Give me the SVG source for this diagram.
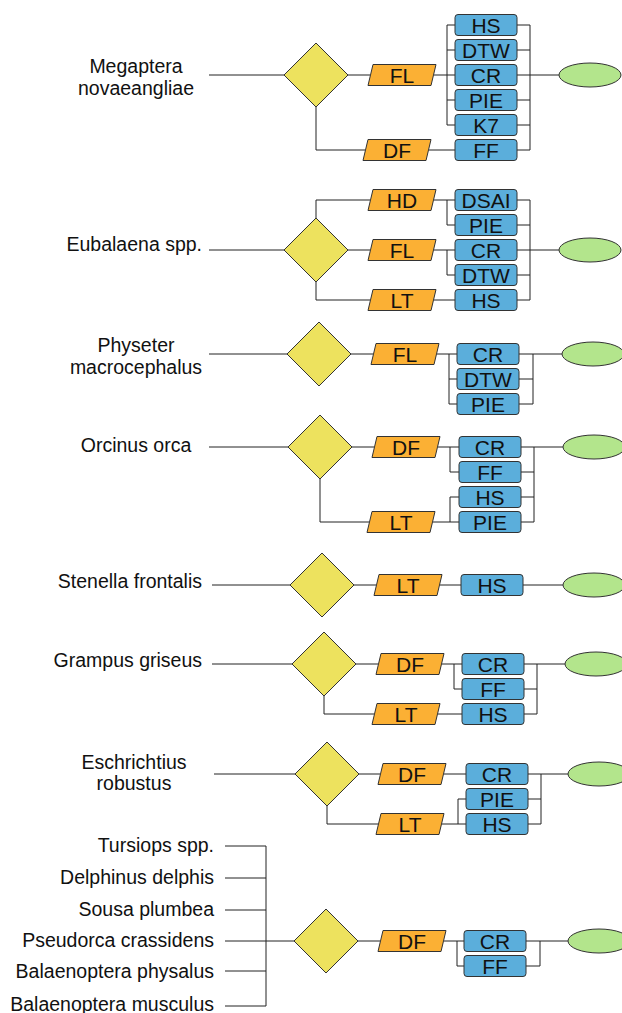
<svg xmlns="http://www.w3.org/2000/svg" width="622" height="1013" viewBox="0 0 622 1013">
<defs>
<style>
.ln{fill:none;stroke:#222;stroke-width:1}
.dia{fill:#EDE25E;stroke:#333;stroke-width:1}
.par{fill:#FBB034;stroke:#333;stroke-width:1}
.box{fill:#5BAEDB;stroke:#333;stroke-width:1}
.ell{fill:#B3E58C;stroke:#333;stroke-width:1}
.lbl{font-family:"Liberation Sans",Arial,sans-serif;font-size:19.5px;fill:#111}
.t{font-family:"Liberation Sans",Arial,sans-serif;font-size:21px;fill:#111;text-anchor:middle}
</style>
<polygon id="dm" points="0,-32 32,0 0,32 -32,0"/>
<polygon id="pg" points="5,-10.5 68,-10.5 63,10.5 0,10.5"/>
<rect id="bx" x="0" y="-10.5" width="62" height="21" rx="3"/>
<ellipse id="el" cx="0" cy="0" rx="31" ry="12"/>
</defs>
<rect width="622" height="1013" fill="#fff"/>

<g id="connectors" class="ln">
<path d="M209,75H284M348,75H370M316,107V150H365M434,75H455M447,25V125M447,25H455M447,50H455M447,100H455M447,125H455M429,150H455M517,25H530M517,50H530M517,75H559M517,100H530M517,125H530M517,150H530M530,25V150"/>
<path d="M209,250H284M348,250H370M316,218V200H370M316,282V300H370M434,200H455M447,200V225H455M434,250H455M447,250V275H455M434,300H455M517,200H530M517,225H530M517,250H559M517,275H530M517,300H530M530,200V300"/>
<path d="M209,354H287M351,354H373M437,354H457M449,354V404M449,379H457M449,404H457M519,354H562M519,379H533M519,404H533M533,354V404"/>
<path d="M209,447H288M352,447H374M320,479V522H369M438,447H459M450,447V472H459M433,522H459M450,497V522M450,497H459M521,447H563M521,472H534M521,497H534M521,522H534M534,447V522"/>
<path d="M212,585H290M354,585H376M440,585H461M523,585H563"/>
<path d="M212,664H292M356,664H378M324,696V714H374M442,664H462M454,664V689H462M438,714H462M524,664H565M524,689H537M524,714H537M537,664V714"/>
<path d="M214,774H295M359,774H380M444,774H466M327,806V824H378M442,824H466M458,824V799H466M528,774H568M528,799H541M528,824H541M541,774V824"/>
<path d="M225,846H266M225,878H266M225,910H266M225,941H294M225,971H266M225,1006H266M266,846V1006M358,941H380M444,941H464M457,941V966H464M526,941H568M526,966H540M540,941V966"/>
</g>

<g id="row1">
<text class="lbl" x="136" y="73" text-anchor="middle">Megaptera</text>
<text class="lbl" x="136" y="95" text-anchor="middle">novaeangliae</text>
<use href="#dm" class="dia" x="316" y="75"/>
<use href="#pg" class="par" x="368" y="75"/><text class="t" x="402" y="82.5">FL</text>
<use href="#pg" class="par" x="363" y="150"/><text class="t" x="397" y="157.5">DF</text>
<use href="#bx" class="box" x="455" y="25"/><text class="t" x="486" y="32.5">HS</text>
<use href="#bx" class="box" x="455" y="50"/><text class="t" x="486" y="57.5">DTW</text>
<use href="#bx" class="box" x="455" y="75"/><text class="t" x="486" y="82.5">CR</text>
<use href="#bx" class="box" x="455" y="100"/><text class="t" x="486" y="107.5">PIE</text>
<use href="#bx" class="box" x="455" y="125"/><text class="t" x="486" y="132.5">K7</text>
<use href="#bx" class="box" x="455" y="150"/><text class="t" x="486" y="157.5">FF</text>
<use href="#el" class="ell" x="590" y="75"/>
</g>

<g id="row2">
<text class="lbl" x="202" y="251" text-anchor="end">Eubalaena spp.</text>
<use href="#dm" class="dia" x="316" y="250"/>
<use href="#pg" class="par" x="368" y="200"/><text class="t" x="402" y="207.5">HD</text>
<use href="#pg" class="par" x="368" y="250"/><text class="t" x="402" y="257.5">FL</text>
<use href="#pg" class="par" x="368" y="300"/><text class="t" x="402" y="307.5">LT</text>
<use href="#bx" class="box" x="455" y="200"/><text class="t" x="486" y="207.5">DSAI</text>
<use href="#bx" class="box" x="455" y="225"/><text class="t" x="486" y="232.5">PIE</text>
<use href="#bx" class="box" x="455" y="250"/><text class="t" x="486" y="257.5">CR</text>
<use href="#bx" class="box" x="455" y="275"/><text class="t" x="486" y="282.5">DTW</text>
<use href="#bx" class="box" x="455" y="300"/><text class="t" x="486" y="307.5">HS</text>
<use href="#el" class="ell" x="590" y="250"/>
</g>

<g id="row3">
<text class="lbl" x="136" y="352" text-anchor="middle">Physeter</text>
<text class="lbl" x="136" y="374" text-anchor="middle">macrocephalus</text>
<use href="#dm" class="dia" x="319" y="354"/>
<use href="#pg" class="par" x="371" y="354"/><text class="t" x="405" y="361.5">FL</text>
<use href="#bx" class="box" x="457" y="354"/><text class="t" x="488" y="361.5">CR</text>
<use href="#bx" class="box" x="457" y="379"/><text class="t" x="488" y="386.5">DTW</text>
<use href="#bx" class="box" x="457" y="404"/><text class="t" x="488" y="411.5">PIE</text>
<use href="#el" class="ell" x="593" y="354"/>
</g>

<g id="row4">
<text class="lbl" x="136" y="452" text-anchor="middle">Orcinus orca</text>
<use href="#dm" class="dia" x="320" y="447"/>
<use href="#pg" class="par" x="372" y="447"/><text class="t" x="406" y="454.5">DF</text>
<use href="#pg" class="par" x="367" y="522"/><text class="t" x="401" y="529.5">LT</text>
<use href="#bx" class="box" x="459" y="447"/><text class="t" x="490" y="454.5">CR</text>
<use href="#bx" class="box" x="459" y="472"/><text class="t" x="490" y="479.5">FF</text>
<use href="#bx" class="box" x="459" y="497"/><text class="t" x="490" y="504.5">HS</text>
<use href="#bx" class="box" x="459" y="522"/><text class="t" x="490" y="529.5">PIE</text>
<use href="#el" class="ell" x="594" y="447"/>
</g>

<g id="row5">
<text class="lbl" x="202" y="588" text-anchor="end">Stenella frontalis</text>
<use href="#dm" class="dia" x="322" y="585"/>
<use href="#pg" class="par" x="374" y="585"/><text class="t" x="408" y="592.5">LT</text>
<use href="#bx" class="box" x="461" y="585"/><text class="t" x="492" y="592.5">HS</text>
<use href="#el" class="ell" x="594" y="585"/>
</g>

<g id="row6">
<text class="lbl" x="202" y="667" text-anchor="end">Grampus griseus</text>
<use href="#dm" class="dia" x="324" y="664"/>
<use href="#pg" class="par" x="376" y="664"/><text class="t" x="410" y="671.5">DF</text>
<use href="#pg" class="par" x="372" y="714"/><text class="t" x="406" y="721.5">LT</text>
<use href="#bx" class="box" x="462" y="664"/><text class="t" x="493" y="671.5">CR</text>
<use href="#bx" class="box" x="462" y="689"/><text class="t" x="493" y="696.5">FF</text>
<use href="#bx" class="box" x="462" y="714"/><text class="t" x="493" y="721.5">HS</text>
<use href="#el" class="ell" x="596" y="664"/>
</g>

<g id="row7">
<text class="lbl" x="134" y="769" text-anchor="middle">Eschrichtius</text>
<text class="lbl" x="134" y="790" text-anchor="middle">robustus</text>
<use href="#dm" class="dia" x="327" y="774"/>
<use href="#pg" class="par" x="378" y="774"/><text class="t" x="412" y="781.5">DF</text>
<use href="#pg" class="par" x="376" y="824"/><text class="t" x="410" y="831.5">LT</text>
<use href="#bx" class="box" x="466" y="774"/><text class="t" x="497" y="781.5">CR</text>
<use href="#bx" class="box" x="466" y="799"/><text class="t" x="497" y="806.5">PIE</text>
<use href="#bx" class="box" x="466" y="824"/><text class="t" x="497" y="831.5">HS</text>
<use href="#el" class="ell" x="599" y="774"/>
</g>

<g id="row8">
<text class="lbl" x="214" y="852" text-anchor="end">Tursiops spp.</text>
<text class="lbl" x="214" y="884" text-anchor="end">Delphinus delphis</text>
<text class="lbl" x="214" y="916" text-anchor="end">Sousa plumbea</text>
<text class="lbl" x="214" y="947" text-anchor="end">Pseudorca crassidens</text>
<text class="lbl" x="214" y="978" text-anchor="end">Balaenoptera physalus</text>
<text class="lbl" x="214" y="1011" text-anchor="end">Balaenoptera musculus</text>
<use href="#dm" class="dia" x="326" y="941"/>
<use href="#pg" class="par" x="378" y="941"/><text class="t" x="412" y="948.5">DF</text>
<use href="#bx" class="box" x="464" y="941"/><text class="t" x="495" y="948.5">CR</text>
<use href="#bx" class="box" x="464" y="966"/><text class="t" x="495" y="973.5">FF</text>
<use href="#el" class="ell" x="599" y="941"/>
</g>
</svg>
